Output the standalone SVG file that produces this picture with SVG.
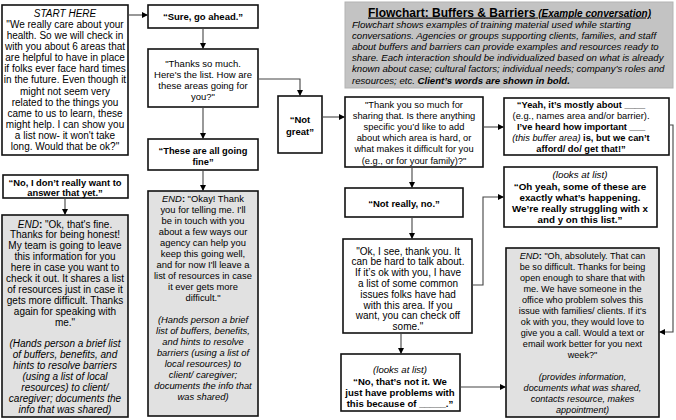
<svg xmlns="http://www.w3.org/2000/svg" width="676" height="420" viewBox="0 0 676 420">
<defs>
<marker id="ah" markerUnits="userSpaceOnUse" markerWidth="6" markerHeight="6" viewBox="0 0 6 6" refX="6" refY="3" orient="auto">
<path d="M0,0 L6,3 L0,6 z" fill="#000"/>
</marker>
<style>
text{font-family:"Liberation Sans",Arial,sans-serif;fill:#000;text-anchor:middle}
.box{fill:#fff;stroke:#111;stroke-width:1.6}
.end{fill:#e1e1e1;stroke:#111;stroke-width:1.6}
.b{font-weight:bold}
.i{font-style:italic}
.bi{font-weight:bold;font-style:italic}
.con{fill:none;stroke:#444;stroke-width:1.1;marker-end:url(#ah)}
.tb text{text-anchor:start;font-style:italic;font-size:9.6px}
</style>
</defs>

<g id="title">
<rect x="345" y="2" width="328" height="86" fill="#c3c3c3" stroke="#b3b3b3" stroke-width="1"/>
<text x="368" y="16.5" style="text-anchor:start" text-decoration="underline"><tspan class="b" font-size="12px">Flowchart: Buffers &amp; Barriers</tspan><tspan class="bi" font-size="10px"> (Example conversation)</tspan></text>
<g class="tb">
<text x="352" y="27.5">Flowchart shows examples of training material used while starting</text>
<text x="352" y="38.7">conversations. Agencies or groups supporting clients, families, and staff</text>
<text x="352" y="49.9">about buffers and barriers can provide examples and resources ready to</text>
<text x="352" y="61.1">share. Each interaction should be individualized based on what is already</text>
<text x="352" y="72.3">known about case; cultural factors; individual needs; company’s roles and</text>
<text x="352" y="83.5">resources; etc. <tspan font-weight="bold">Client’s words are shown in bold.</tspan></text>
</g>
</g>

<g id="start">
<rect class="box" x="2" y="5" width="126" height="150"/>
<g font-size="10px">
<text x="65" y="16.5" class="i">START HERE</text>
<text x="65" y="27.6">"We really care about your</text>
<text x="65" y="38.8">health. So we will check in</text>
<text x="65" y="49.9">with you about 6 areas that</text>
<text x="65" y="61.1">are helpful to have in place</text>
<text x="65" y="72.2">if folks ever face hard times</text>
<text x="65" y="83.4">in the future. Even though it</text>
<text x="65" y="94.5">might not seem very</text>
<text x="65" y="105.7">related to the things you</text>
<text x="65" y="116.8">came to us to learn, these</text>
<text x="65" y="128">might help. I can show you</text>
<text x="65" y="139.1">a list now- it won't take</text>
<text x="65" y="150.3">long. Would that be ok?"</text>
</g>
</g>

<g id="sure">
<rect class="box" x="148" y="5" width="110" height="23"/>
<text x="203" y="19.5" class="b" font-size="9.5px">“Sure, go ahead.”</text>
</g>

<g id="thanks">
<rect class="box" x="148" y="49" width="110" height="58"/>
<g font-size="9.5px">
<text x="203" y="66.5">"Thanks so much.</text>
<text x="203" y="77.5">Here's the list. How are</text>
<text x="203" y="88.5">these areas going for</text>
<text x="203" y="99.5">you?"</text>
</g>
</g>

<g id="fine">
<rect class="box" x="148" y="139" width="110" height="31"/>
<g class="b" font-size="9.3px">
<text x="203" y="153.5">“These are all going</text>
<text x="203" y="165">fine”</text>
</g>
</g>

<g id="notgreat">
<rect class="box" x="278" y="96" width="44" height="57"/>
<g class="b" font-size="9.5px">
<text x="300" y="122.5">“Not</text>
<text x="300" y="134.5">great”</text>
</g>
</g>

<g id="thankyou">
<rect class="box" x="345" y="97" width="138" height="70"/>
<g font-size="9.3px">
<text x="414" y="107.5">"Thank you so much for</text>
<text x="414" y="118.7">sharing that. Is there anything</text>
<text x="414" y="129.9">specific you’d like to add</text>
<text x="414" y="141.1">about which area is hard, or</text>
<text x="414" y="152.3">what makes it difficult for you</text>
<text x="414" y="163.5">(e.g., or for your family)?"</text>
</g>
</g>

<g id="yeah">
<rect class="box" x="504" y="98" width="165" height="57"/>
<g font-size="9.3px">
<text x="581" y="107.5" class="b">“Yeah, it’s mostly about ____</text>
<text x="581" y="118.5">(e.g., names area and/or barrier).</text>
<text x="581" y="130" class="b">I’ve heard how important ___</text>
<text x="581" y="141"><tspan class="i">(this buffer area)</tspan><tspan class="b"> is, but we can’t</tspan></text>
<text x="581" y="152" class="b">afford/ do/ get that!”</text>
</g>
</g>

<g id="ohyeah">
<rect class="box" x="504" y="167" width="153" height="60"/>
<g font-size="9.8px">
<text x="580" y="177.5" class="i">(looks at list)</text>
<text x="580" y="189.5" class="b">“Oh yeah, some of these are</text>
<text x="580" y="200.5" class="b">exactly what’s happening.</text>
<text x="580" y="211.5" class="b">We’re really struggling with x</text>
<text x="580" y="222.5" class="b">and y on this list.”</text>
</g>
</g>

<g id="notreally">
<rect class="box" x="345" y="188" width="118" height="29"/>
<text x="404" y="206.5" class="b" font-size="9.5px">“Not really, no.”</text>
</g>

<g id="oksee">
<rect class="box" x="343" y="239" width="129" height="94"/>
<g font-size="10px">
<text x="408" y="254.5">"Ok, I see, thank you. It</text>
<text x="408" y="265.3">can be hard to talk about.</text>
<text x="408" y="276.1">If it’s ok with you, I have</text>
<text x="408" y="286.9">a list of some common</text>
<text x="408" y="297.7">issues folks have had</text>
<text x="408" y="308.5">with this area. If you</text>
<text x="408" y="319.3">want, you can check off</text>
<text x="408" y="330">some."</text>
</g>
</g>

<g id="notit">
<rect class="box" x="341" y="354" width="119" height="57"/>
<g font-size="9.6px">
<text x="400" y="372.5" class="i">(looks at list)</text>
<text x="400" y="384.5" class="b">“No, that’s not it. We</text>
<text x="400" y="396" class="b">just have problems with</text>
<text x="400" y="406.5" class="b">this because of _____.”</text>
</g>
</g>

<g id="no">
<rect class="box" x="3" y="175" width="125" height="23"/>
<g class="b" font-size="9.4px">
<text x="65" y="185.5">“No, I don’t really want to</text>
<text x="65" y="196">answer that yet.”</text>
</g>
</g>

<g id="end1">
<rect class="end" x="2" y="215" width="126" height="202"/>
<g font-size="10px">
<text x="65" y="227.5"><tspan class="i">END</tspan><tspan class="b">:</tspan> "Ok, that's fine.</text>
<text x="65" y="238.4">Thanks for being honest!</text>
<text x="65" y="249.3">My team is going to leave</text>
<text x="65" y="260.2">this information for you</text>
<text x="65" y="271.1">here in case you want to</text>
<text x="65" y="282">check it out. It shares a list</text>
<text x="65" y="292.9">of resources just in case it</text>
<text x="65" y="303.8">gets more difficult. Thanks</text>
<text x="65" y="314.7">again for speaking with</text>
<text x="65" y="325.6">me."</text>
<g class="i">
<text x="65" y="347.4">(Hands person a brief list</text>
<text x="65" y="358.3">of buffers, benefits, and</text>
<text x="65" y="369.2">hints to resolve barriers</text>
<text x="65" y="380.1">(using a list of local</text>
<text x="65" y="391">resources) to client/</text>
<text x="65" y="401.9">caregiver; documents the</text>
<text x="65" y="412.8">info that was shared)</text>
</g>
</g>
</g>

<g id="end2">
<rect class="end" x="148" y="191" width="110" height="225"/>
<g font-size="9.4px">
<text x="203" y="202"><tspan class="i">END</tspan><tspan class="b">:</tspan> "Okay! Thank</text>
<text x="203" y="213">you for telling me. I'll</text>
<text x="203" y="224">be in touch with you</text>
<text x="203" y="235">about a few ways our</text>
<text x="203" y="246">agency can help you</text>
<text x="203" y="257">keep this going well,</text>
<text x="203" y="268">and for now I'll leave a</text>
<text x="203" y="279">list of resources in case</text>
<text x="203" y="290">it ever gets more</text>
<text x="203" y="301">difficult."</text>
<g class="i">
<text x="203" y="323">(Hands person a brief</text>
<text x="203" y="334">list of buffers, benefits,</text>
<text x="203" y="345">and hints to resolve</text>
<text x="203" y="356">barriers (using a list of</text>
<text x="203" y="367">local resources) to</text>
<text x="203" y="378">client/ caregiver;</text>
<text x="203" y="389">documents the info that</text>
<text x="203" y="400">was shared)</text>
</g>
</g>
</g>

<g id="end3">
<rect class="end" x="506" y="248" width="153" height="169"/>
<g font-size="9.1px">
<text x="582.5" y="258.5"><tspan class="i">END</tspan><tspan class="b">:</tspan> "Oh, absolutely. That can</text>
<text x="582.5" y="269.5">be so difficult. Thanks for being</text>
<text x="582.5" y="280.5">open enough to share that with</text>
<text x="582.5" y="291.5">me. We have someone in the</text>
<text x="582.5" y="302.5">office who problem solves this</text>
<text x="582.5" y="313.5">issue with families/ clients. If it's</text>
<text x="582.5" y="324.5">ok with you, they would love to</text>
<text x="582.5" y="335.5">give you a call. Would a text or</text>
<text x="582.5" y="346.5">email work better for you next</text>
<text x="582.5" y="357.5">week?"</text>
<g class="i">
<text x="582.5" y="379.5">(provides information,</text>
<text x="582.5" y="390.5">documents what was shared,</text>
<text x="582.5" y="401.5">contacts resource, makes</text>
<text x="582.5" y="412.5">appointment)</text>
</g>
</g>
</g>

<g id="connectors">
<path class="con" d="M128,15 H148"/>
<path class="con" d="M203,28 V49"/>
<path class="con" d="M203,107 V139"/>
<path class="con" d="M258,79 H300 V96"/>
<path class="con" d="M322,117 H345"/>
<path class="con" d="M483,127 H504"/>
<path class="con" d="M412,167 V188"/>
<path class="con" d="M412,217 V239"/>
<path class="con" d="M401,333 V354"/>
<path class="con" d="M472,285 H483 V197 H504"/>
<path class="con" d="M460,387 H506"/>
<path class="con" d="M669,125 H673 V332 H659"/>
<path class="con" d="M203,170 V191"/>
<path class="con" d="M65,198 V215"/>
</g>
</svg>
